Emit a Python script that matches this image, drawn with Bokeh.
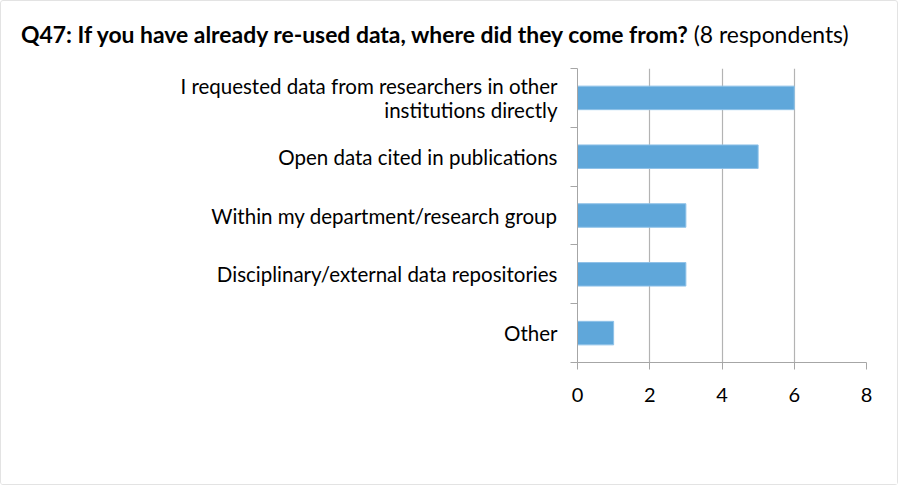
from bokeh.plotting import figure
from bokeh.models import Range1d, FixedTicker, ColumnDataSource, Div
from bokeh.layouts import column
from bokeh.embed import file_html
from bokeh.resources import INLINE

categories = [
    "I requested data from researchers in other\ninstitutions directly",
    "Open data cited in publications",
    "Within my department/research group",
    "Disciplinary/external data repositories",
    "Other",
]
counts = [6, 5, 3, 3, 1]
x_ticks = [0, 2, 4, 6, 8]
title_main = "Q47: If you have already re-used data, where did they come from?"
title_note = "(8 respondents)"

n = len(categories)
ypos = [n - i - 0.5 for i in range(n)]
src = ColumnDataSource(dict(y=ypos, right=counts, label=categories))

FONT = "Lato"
AXIS_GRAY = "#A6A6A6"
TITLE_H = 52

title = Div(
    text=(f'<div style="font-family:Lato; font-size:22.9px; color:black; '
          f'padding:20px 0 0 20px; line-height:26px; white-space:nowrap">'
          f'<b>{title_main}</b> {title_note}</div>'),
    width=896, height=TITLE_H, margin=0,
)

p = figure(width=896, height=483 - TITLE_H, output_backend="svg", toolbar_location=None,
           x_range=Range1d(0, 8), y_range=Range1d(0, n),
           min_border_left=576, min_border_right=31, min_border_top=67 - TITLE_H,
           min_border_bottom=122)
p.margin = 0
p.border_fill_color = "white"
p.background_fill_color = "white"
p.outline_line_color = None

p.hbar(y="y", left=0, right="right", height=0.4, source=src,
       fill_color="#5FA7DA", line_color="#8FC2E8", line_width=1)

# x axis
p.xaxis.ticker = FixedTicker(ticks=x_ticks)
p.xaxis.axis_line_color = AXIS_GRAY
p.xaxis.major_tick_line_color = AXIS_GRAY
p.xaxis.major_tick_out = 7
p.xaxis.major_tick_in = 0
p.xaxis.minor_tick_line_color = None
p.xaxis.major_label_text_font = FONT
p.xaxis.major_label_text_font_size = "20px"
p.xaxis.major_label_text_color = "black"
p.xaxis.major_label_standoff = 18

# y axis: labels at band centres, ticks at band boundaries
p.yaxis.ticker = FixedTicker(ticks=ypos, minor_ticks=list(range(n + 1)))
p.yaxis.major_label_overrides = {y: c for y, c in zip(ypos, categories)}
p.yaxis.axis_line_color = AXIS_GRAY
p.yaxis.major_tick_line_color = None
p.yaxis.major_tick_out = 0
p.yaxis.major_tick_in = 0
p.yaxis.minor_tick_line_color = AXIS_GRAY
p.yaxis.minor_tick_out = 7
p.yaxis.minor_tick_in = 0
p.yaxis.major_label_text_font = FONT
p.yaxis.major_label_text_font_size = "20.5px"
p.yaxis.major_label_text_color = "black"
p.yaxis.major_label_standoff = 13
p.yaxis.major_label_text_line_height = 1.0

p.xgrid.ticker = FixedTicker(ticks=x_ticks[1:])
p.xgrid.grid_line_color = "#B3B3B3"
p.xgrid.grid_line_width = 1.2
p.ygrid.grid_line_color = None

layout = column(title, p, spacing=0,
                styles={"border": "1px solid #E3E3E3", "border-radius": "3px",
                        "background": "white"})

open("out.html", "w").write(file_html(layout, INLINE))
